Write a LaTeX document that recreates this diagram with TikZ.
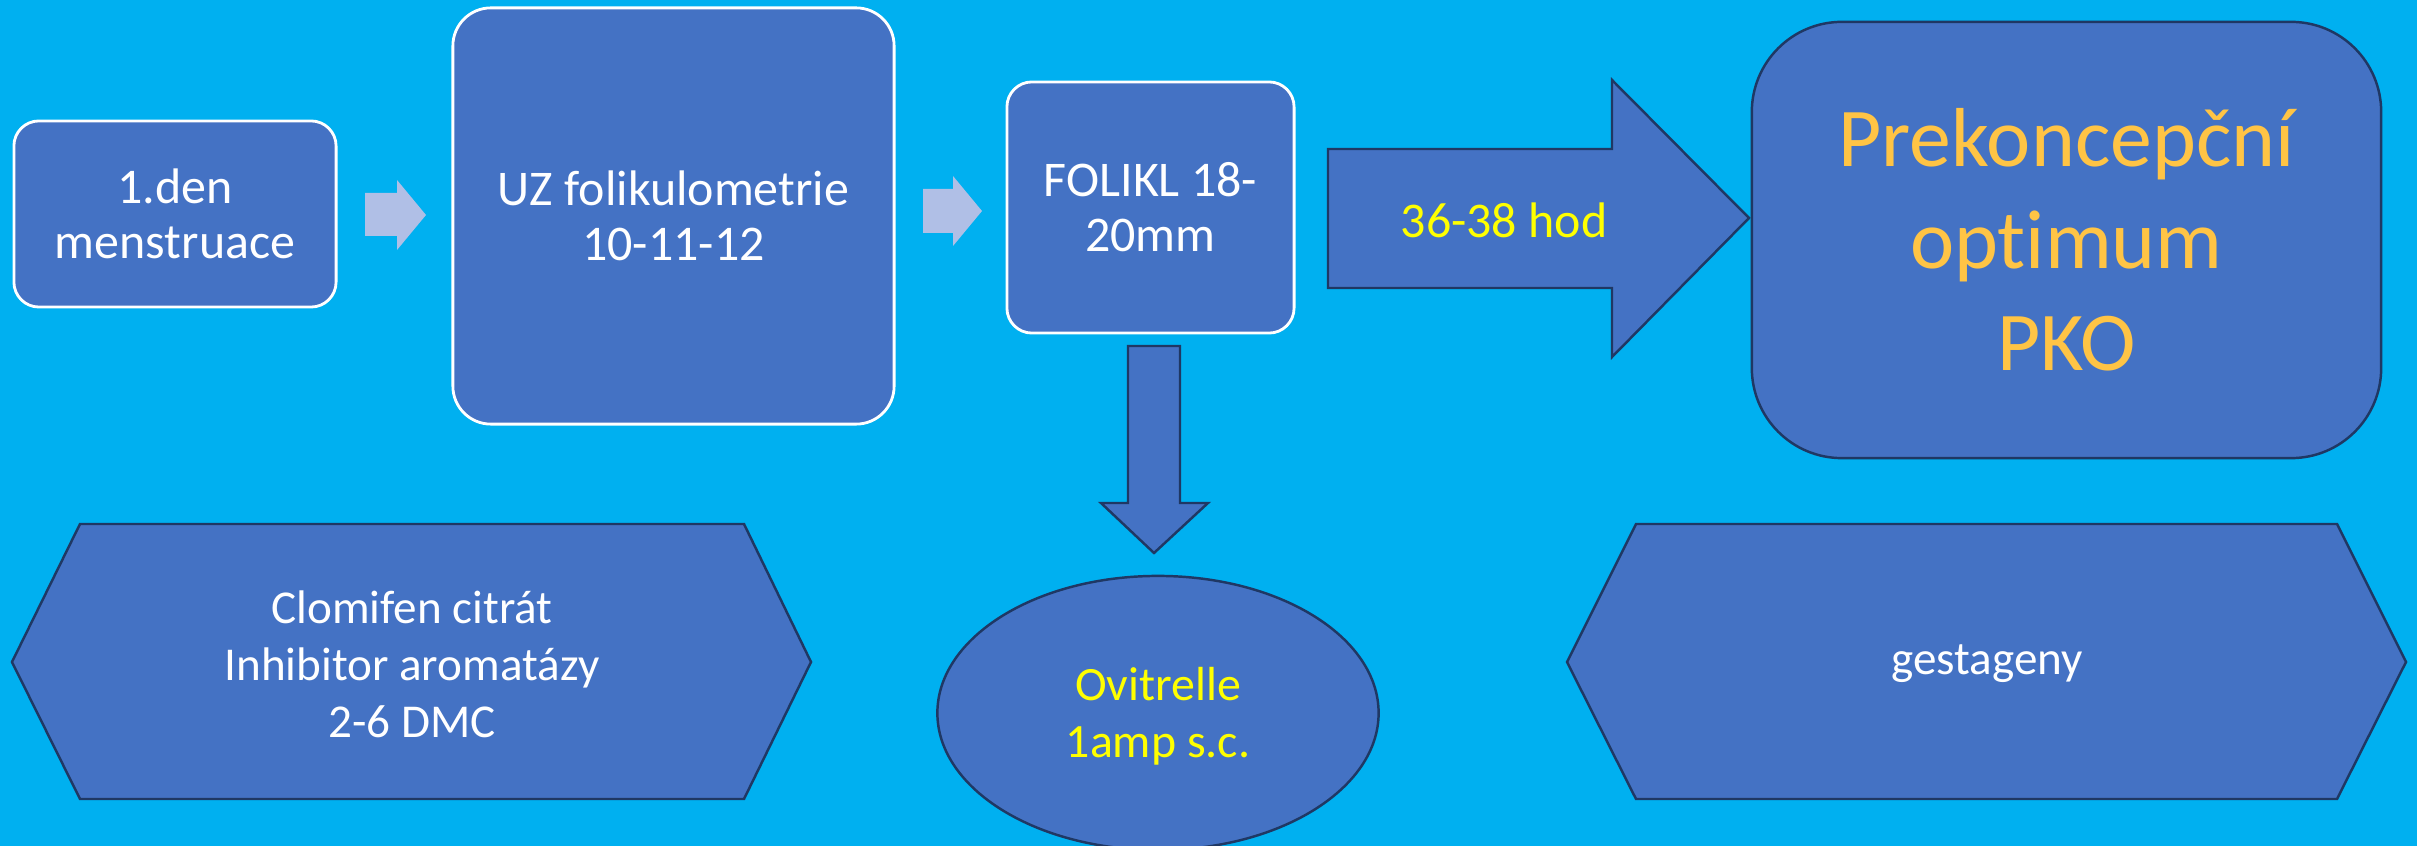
\documentclass[tikz,border=0pt]{standalone}
\usepackage{fontspec}
\setmainfont{Carlito}[Ligatures=NoCommon]
\usetikzlibrary{shapes.geometric}
\definecolor{bg}{HTML}{00B0F0}
\definecolor{boxfill}{HTML}{4472C4}
\definecolor{navy}{HTML}{1F3864}
\definecolor{lightarrow}{HTML}{B0BFE6}
\definecolor{gold}{HTML}{FFC445}
\definecolor{yel}{HTML}{FFFF00}
\tikzset{
  topbox/.style={draw=white, line width=0.8pt, fill=boxfill, rounded corners=0.25cm, align=center, text=white, inner sep=0pt},
  darkshape/.style={draw=navy, line width=0.7pt, fill=boxfill},
  lightshape/.style={fill=lightarrow, draw=none},
  midtext/.style={font=\fontsize{14.2pt}{15.6pt}\selectfont, align=center},
  smalltext/.style={font=\fontsize{13.4pt}{16.2pt}\selectfont, align=center, text=white},
}
\begin{document}
\begin{tikzpicture}[x=0.01cm, y=-0.01cm]
\useasboundingbox (0,0) rectangle (2417,846);
\fill[bg] (0,0) rectangle (2417,846);

% top row boxes
\node[topbox, midtext, text=white, minimum width=3.22cm, minimum height=1.86cm] (b1) at (175,214) {1.den\\menstruace};
\node[topbox, midtext, text=white, rounded corners=0.38cm, minimum width=4.41cm, minimum height=4.16cm] (b2) at (673.5,216) {UZ folikulometrie\\10-11-12};
\node[topbox, midtext, text=white, minimum width=2.87cm, minimum height=2.51cm] (b3) at (1150.5,207.5) {FOLIKL 18-\\20mm};
\node[darkshape, rounded corners=0.9cm, minimum width=6.29cm, minimum height=4.36cm, inner sep=0pt] (pko) at (2066.5,240) {};
\node[font=\fontsize{23.8pt}{29pt}\selectfont, align=center, text=gold] (pkot) at (2066.5,240) {Prekoncepční\\optimum\\PKO};

% light chevron arrows
\fill[lightshape] (365,193) -- (397,193) -- (397,180) -- (426,215) -- (397,250) -- (397,236) -- (365,236) -- cycle;
\fill[lightshape] (923,189) -- (953,189) -- (953,176) -- (982,211) -- (953,246) -- (953,233) -- (923,233) -- cycle;

% big right arrow
\draw[darkshape, line join=miter] (1328,149) -- (1612,149) -- (1612,80) -- (1749,218) -- (1612,357) -- (1612,288) -- (1328,288) -- cycle;
\node[midtext, text=yel] (hod) at (1504,220) {36-38 hod};

% down arrow
\draw[darkshape, line join=miter] (1128,346) -- (1180,346) -- (1180,503) -- (1208,503) -- (1154,553) -- (1101,503) -- (1128,503) -- cycle;

% ellipse
\node[darkshape, ellipse, minimum width=4.41cm, minimum height=2.74cm, inner sep=0pt] (ovi) at (1158,713) {};
\node[text=yel, font=\fontsize{13.6pt}{16.2pt}\selectfont, align=center] (ovit) at (1158,716) {Ovitrelle\\1amp s.c.};

% hexagons
\draw[darkshape, line join=miter] (12,662) -- (80,524) -- (744,524) -- (811,662) -- (744,799) -- (80,799) -- cycle;
\node[smalltext] (h1) at (412,664) {Clomifen citrát\\Inhibitor aromatázy\\2-6 DMC};
\draw[darkshape, line join=miter] (1567,662) -- (1636,524) -- (2337,524) -- (2406,662) -- (2337,799) -- (1636,799) -- cycle;
\node[smalltext] (h2) at (1987,664) {gestageny};
\end{tikzpicture}
\end{document}
